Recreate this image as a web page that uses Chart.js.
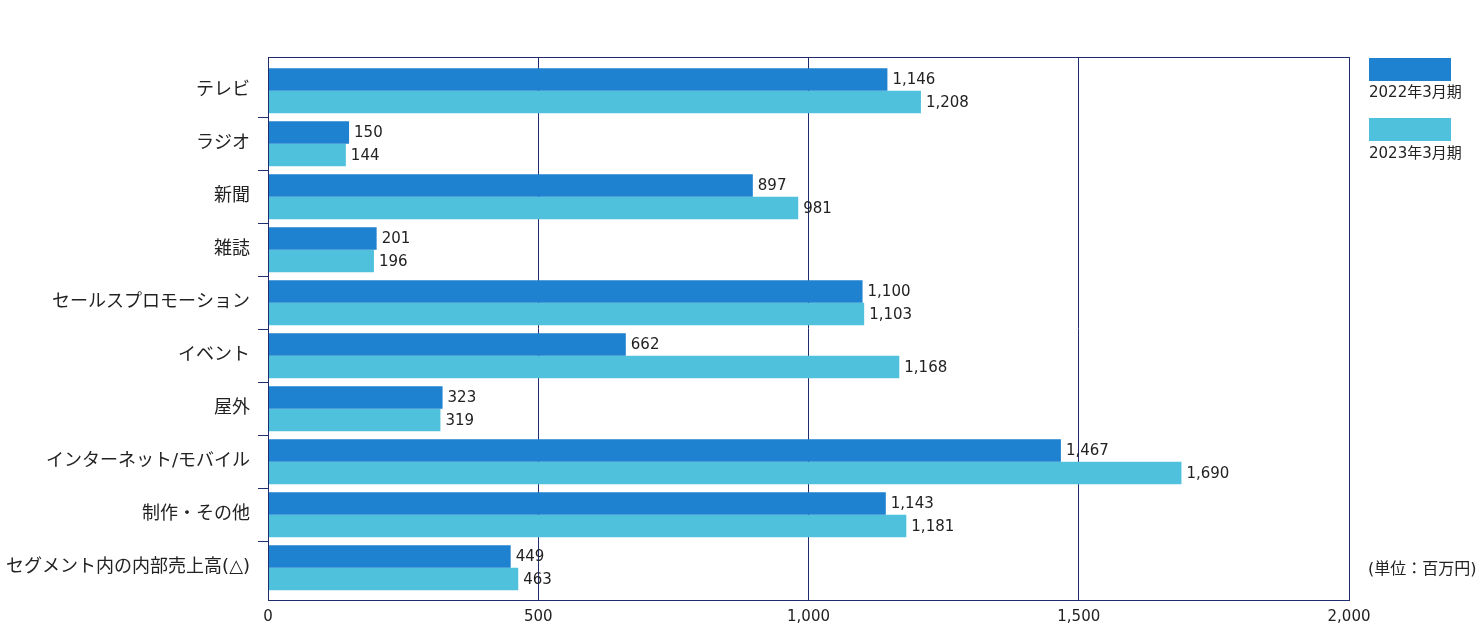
<!DOCTYPE html>
<html>
<head>
<meta charset="utf-8">
<script src="https://cdn.jsdelivr.net/npm/chart.js@4"></script>
<style>
  html, body { margin: 0; padding: 0; background: #fff; }
  #wrap { position: relative; width: 1478px; height: 629px; }
  canvas { position: absolute; left: 0; top: 0; }
  .lg-box { position: absolute; left: 1369px; width: 82px; height: 23px; }
  .lg-text, .unit { position: absolute; font-family: 'DejaVu Sans', 'Noto Sans CJK JP', sans-serif; font-size: 15px; color: #222; white-space: nowrap; line-height: 1; }
</style>
</head>
<body>
<div id="wrap">
  <canvas id="c" width="1478" height="629"></canvas>
  <div class="lg-box" id="lb1" style="top:58px;"></div>
  <div class="lg-text" id="lt1" style="left:1369px; top:85px;"></div>
  <div class="lg-box" id="lb2" style="top:118px;"></div>
  <div class="lg-text" id="lt2" style="left:1369px; top:146px;"></div>
  <div class="unit" id="unit" style="left:1368px; top:561px; font-size:16px;"></div>
</div>
<script>
const categories = ['テレビ', 'ラジオ', '新聞', '雑誌', 'セールスプロモーション', 'イベント', '屋外', 'インターネット/モバイル', '制作・その他', 'セグメント内の内部売上高(△)'];
const seriesNames = ['2022年3月期', '2023年3月期'];
const values2022 = [1146, 150, 897, 201, 1100, 662, 323, 1467, 1143, 449];
const values2023 = [1208, 144, 981, 196, 1103, 1168, 319, 1690, 1181, 463];
const xTicks = [0, 500, 1000, 1500, 2000];
const unitLabel = '(単位：百万円)';

const colors = ['#1e82d0', '#4fc1dc'];
const navy = '#1f2d6e';
const numFont = "'DejaVu Sans', 'Noto Sans CJK JP', sans-serif";

document.getElementById('lb1').style.background = colors[0];
document.getElementById('lb2').style.background = colors[1];
document.getElementById('lt1').textContent = seriesNames[0];
document.getElementById('lt2').textContent = seriesNames[1];
document.getElementById('unit').textContent = unitLabel;

const fmt = v => v.toLocaleString('en-US');

// extra blank space inside the plot box above the first and below the last category (in category units)
const padTopCat = 7.3 / 53;
const padBottomCat = 5.7 / 53;

const borderPlugin = {
  id: 'borderBox',
  afterDatasetsDraw(chart) {
    const a = chart.chartArea, ctx = chart.ctx;
    ctx.save();
    ctx.strokeStyle = navy;
    ctx.lineWidth = 1;
    ctx.strokeRect(Math.round(a.left) + 0.5, Math.round(a.top) + 0.5, Math.round(a.right - a.left), Math.round(a.bottom - a.top));
    ctx.restore();
  }
};

const labelPlugin = {
  id: 'valueLabels',
  afterDatasetsDraw(chart) {
    const ctx = chart.ctx;
    ctx.save();
    ctx.font = '15px ' + numFont;
    ctx.fillStyle = '#222';
    ctx.textAlign = 'left';
    ctx.textBaseline = 'middle';
    chart.data.datasets.forEach((ds, di) => {
      chart.getDatasetMeta(di).data.forEach((bar, i) => {
        ctx.fillText(fmt(ds.data[i]), bar.x + 5, bar.y + 1);
      });
    });
    ctx.restore();
  }
};

new Chart(document.getElementById('c'), {
  type: 'bar',
  data: {
    labels: categories,
    datasets: [
      { label: seriesNames[0], data: values2022, backgroundColor: colors[0] },
      { label: seriesNames[1], data: values2023, backgroundColor: colors[1] }
    ]
  },
  options: {
    indexAxis: 'y',
    responsive: false,
    animation: false,
    devicePixelRatio: 1,
    categoryPercentage: 0.85,
    barPercentage: 1.0,
    layout: { padding: { left: 0, right: 129, top: 57, bottom: 0 } },
    plugins: { legend: { display: false }, tooltip: { enabled: false } },
    scales: {
      x: {
        min: xTicks[0],
        max: xTicks[xTicks.length - 1],
        afterBuildTicks(scale) { scale.ticks = xTicks.map(v => ({ value: v })); },
        afterFit(scale) { scale.height = 29; },
        grid: { color: navy, drawTicks: false, lineWidth: 1 },
        border: { color: navy },
        ticks: {
          padding: 8,
          color: '#222',
          font: { family: numFont, size: 15 },
          callback: v => fmt(v)
        }
      },
      y: {
        afterFit(scale) { scale.width = 268; },
        afterBuildTicks(scale) {
          const n = scale.getLabels().length;
          scale._startValue = -0.5 - padTopCat;
          scale._valueRange = n + padTopCat + padBottomCat;
        },
        grid: {
          drawOnChartArea: false,
          offset: true,
          tickLength: 10,
          color: c => (c.type === 'tick' && c.index > 0) ? navy : 'rgba(0,0,0,0)'
        },
        border: { color: navy },
        ticks: {
          padding: 8,
          color: '#222',
          font: { family: numFont, size: 18 }
        }
      }
    }
  },
  plugins: [borderPlugin, labelPlugin]
});
</script>
</body>
</html>
